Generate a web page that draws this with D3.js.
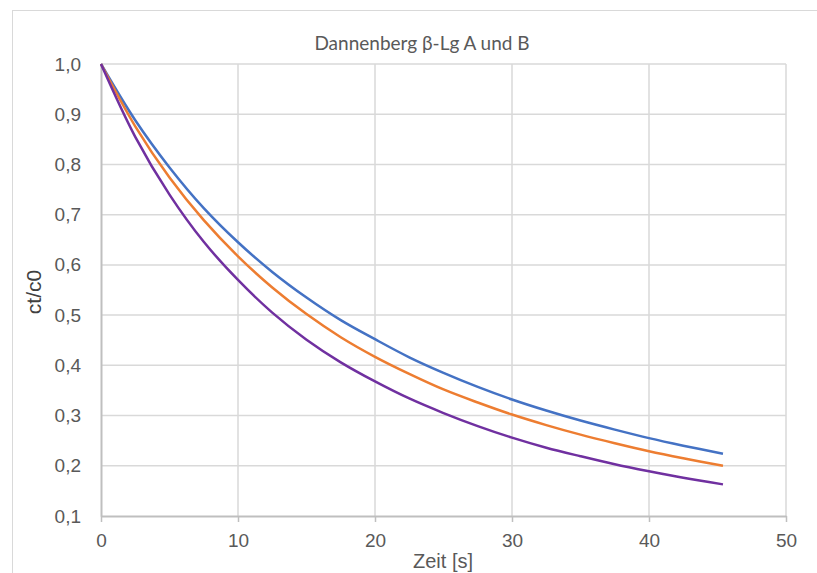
<!DOCTYPE html>
<html><head><meta charset="utf-8">
<script src="https://cdn.jsdelivr.net/npm/d3@7"></script>
<style>body{margin:0;background:#fff;}svg{display:block;}</style>
</head><body>
<script>
const times = [0,2.5,5,7.5,10,12.5,15,17.5,20,22.5,25,27.5,30,32.5,35,37.5,40,42.5,45.4];
const seriesBlue   = [1,0.888,0.794,0.713,0.645,0.586,0.535,0.490,0.452,0.416,0.385,0.357,0.332,0.310,0.290,0.272,0.255,0.240,0.224];
const seriesOrange = [1,0.876,0.774,0.689,0.617,0.555,0.502,0.456,0.417,0.383,0.352,0.326,0.302,0.281,0.262,0.245,0.229,0.215,0.200];
const seriesPurple = [1,0.855,0.740,0.646,0.570,0.505,0.451,0.406,0.368,0.334,0.305,0.279,0.256,0.236,0.219,0.203,0.189,0.176,0.163];
const xTicks = [0,10,20,30,40,50];
const yTicks = [0.1,0.2,0.3,0.4,0.5,0.6,0.7,0.8,0.9,1.0];
const colors = ["#4472C4","#ED7D31","#7030A0"];
const title = "Dannenberg β-Lg A und B";
const xLabel = "Zeit [s]";
const yLabel = "ct/c0";

const W = 817, H = 573;
const svg = d3.select("body").append("svg").attr("width", W).attr("height", H);
svg.append("rect").attr("x",12.5).attr("y",10.5).attr("width",W).attr("height",H)
  .attr("fill","#fff").attr("stroke","#d9d9d9");

const x = d3.scaleLinear().domain([0,50]).range([101,786]);
const y = d3.scaleLinear().domain([0.1,1.0]).range([516,64]);

const g = svg.append("g");
g.selectAll(".hg").data(yTicks.slice(1)).join("line")
  .attr("x1",x(0)).attr("x2",x(50)).attr("y1",d=>y(d)).attr("y2",d=>y(d))
  .attr("stroke","#d9d9d9").attr("stroke-width",1.5);
g.selectAll(".vg").data(xTicks.slice(1)).join("line")
  .attr("x1",d=>x(d)).attr("x2",d=>x(d)).attr("y1",y(1.0)).attr("y2",y(0.1))
  .attr("stroke","#d9d9d9").attr("stroke-width",1.5);

const xAxis = d3.axisBottom(x).tickValues(xTicks).tickSize(6).tickSizeOuter(0).tickPadding(12).tickFormat(d3.format("d"));
const ax = svg.append("g").attr("transform",`translate(0,${y(0.1)})`).call(xAxis);
ax.select(".domain").attr("stroke","#bfbfbf").attr("stroke-width",2);
ax.selectAll(".tick line").attr("stroke","#bfbfbf").attr("stroke-width",1.5);
ax.selectAll("text").attr("fill","#595959").attr("font-family","Liberation Sans, Arial, sans-serif").attr("font-size",19);

const yAxis = d3.axisLeft(y).tickValues(yTicks).tickSize(0).tickPadding(20)
  .tickFormat(d => d3.format(".1f")(d).replace(".",","));
const ay = svg.append("g").attr("transform",`translate(${x(0)},0)`).call(yAxis);
ay.select(".domain").attr("stroke","#bfbfbf").attr("stroke-width",2);
ay.selectAll("text").attr("fill","#595959").attr("font-family","Liberation Sans, Arial, sans-serif").attr("font-size",19);

const all = [seriesBlue, seriesOrange, seriesPurple];
const line = d3.line().x((d,i)=>x(times[i])).y(d=>y(d)).curve(d3.curveCatmullRom);
all.forEach((s,k)=>{
  svg.append("path").datum(s).attr("d",line).attr("fill","none")
    .attr("stroke",colors[k]).attr("stroke-width",2.5).attr("stroke-linejoin","round");
});

svg.append("text").attr("x",422).attr("y",50).attr("text-anchor","middle")
  .attr("fill","#595959").style("font-family","Lato, 'Open Sans', sans-serif").style("font-size","19px").text(title);
svg.append("text").attr("x",443).attr("y",568).attr("text-anchor","middle")
  .attr("fill","#595959").style("font-family","Liberation Sans, Arial, sans-serif").style("font-size","20px").text(xLabel);
svg.append("text").attr("transform","translate(41,292) rotate(-90)").attr("text-anchor","middle")
  .attr("fill","#404040").style("font-family","Liberation Sans, Arial, sans-serif").style("font-size","21px").text(yLabel);
</script>
</body></html>
